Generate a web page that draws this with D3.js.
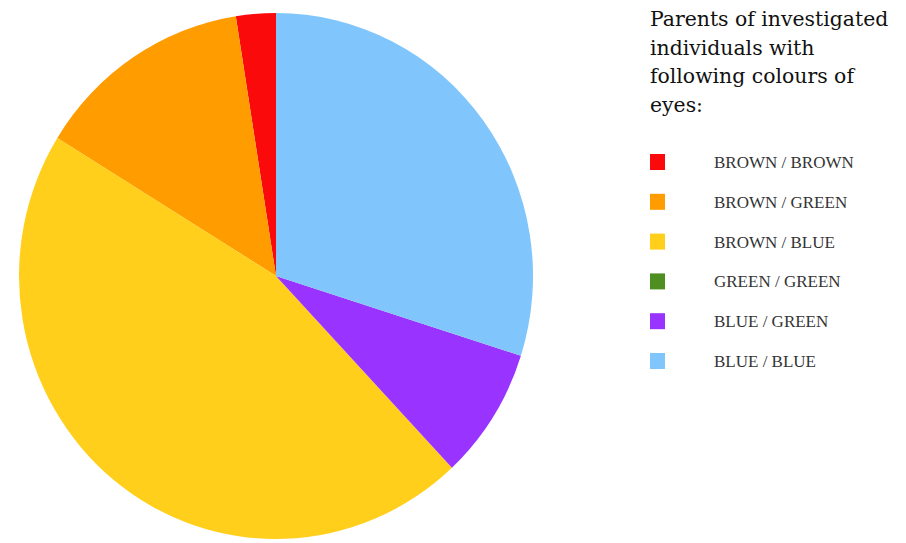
<!DOCTYPE html>
<html>
<head>
<meta charset="utf-8">
<script src="https://cdn.jsdelivr.net/npm/d3@7"></script>
<style>
  html, body { margin: 0; padding: 0; background: #ffffff; }
  svg { display: block; }
</style>
</head>
<body>
<svg id="chart" width="906" height="543"></svg>
<script>
// Parents' eye colour combinations (share of investigated individuals, %)
const categories = ["BROWN / BROWN", "BROWN / GREEN", "BROWN / BLUE", "GREEN / GREEN", "BLUE / GREEN", "BLUE / BLUE"];
const shares = [2.5, 13.7, 45.8, 0, 8.1, 29.9];
const colours = ["#fa0a0a", "#ff9c00", "#ffcf1c", "#4f8f22", "#9933ff", "#80c6fc"];
const titleLines = ["Parents of investigated", "individuals with", "following colours of", "eyes:"];

const svg = d3.select("#chart");
const data = categories.map((c, i) => ({ name: c, value: shares[i], colour: colours[i] }));

// Pie runs counter-clockwise from twelve o'clock
const pie = d3.pie().sort(null).value(d => d.value).startAngle(0).endAngle(-2 * Math.PI);
const r = 263;
const arc = d3.arc().innerRadius(0).outerRadius(r);

const pieG = svg.append("g")
  .attr("transform", `translate(276,276) scale(${257 / 263},1)`);

pieG.selectAll("path")
  .data(pie(data).filter(d => d.data.value > 0))
  .join("path")
  .attr("d", arc)
  .attr("fill", d => d.data.colour);

// Legend title
const title = svg.append("text")
  .attr("x", 650)
  .attr("y", 26)
  .attr("font-family", "'DejaVu Serif', serif")
  .attr("font-size", 20.4)
  .attr("fill", "#111");
title.selectAll("tspan")
  .data(titleLines)
  .join("tspan")
  .attr("x", 650)
  .attr("dy", (d, i) => i === 0 ? 0 : 28.7)
  .text(d => d);

// Legend entries
const y = d3.scalePoint().domain(categories).range([162, 361]);
const items = svg.append("g").selectAll("g")
  .data(data)
  .join("g")
  .attr("transform", d => `translate(0,${y(d.name)})`);

items.append("rect")
  .attr("x", 650)
  .attr("y", -8)
  .attr("width", 15)
  .attr("height", 16)
  .attr("fill", d => d.colour);

items.append("text")
  .attr("x", 714)
  .attr("y", 6)
  .attr("font-family", "'Liberation Serif', serif")
  .attr("font-size", 17)
  .attr("fill", "#333")
  .text(d => d.name);
</script>
</body>
</html>
